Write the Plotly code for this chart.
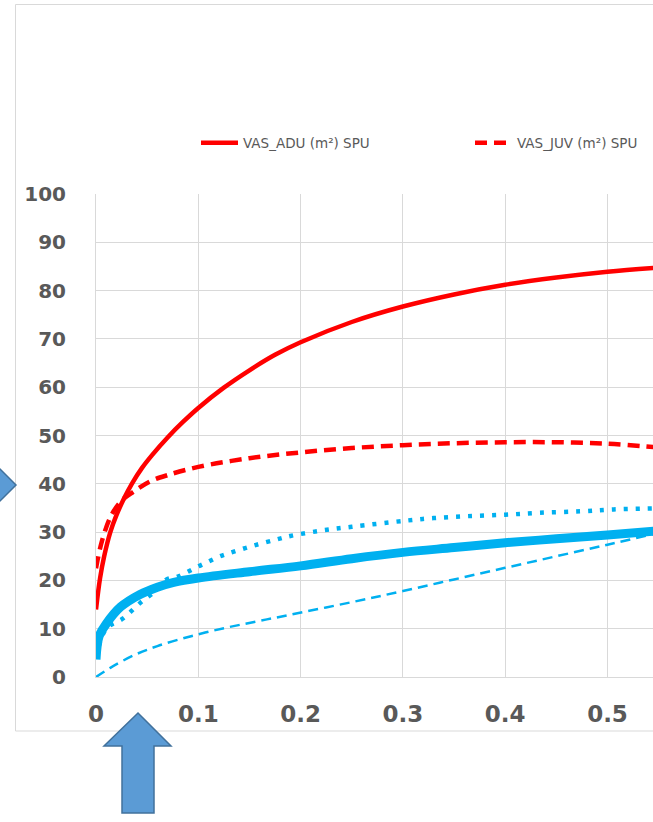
import plotly.graph_objects as go

# ---- data ----
adu_x = [0, 0.004, 0.008, 0.014, 0.02, 0.027, 0.035, 0.045, 0.055, 0.07, 0.085, 0.1, 0.125, 0.15, 0.175, 0.2, 0.25, 0.3, 0.35, 0.4, 0.45, 0.5, 0.545]
adu_y = [14, 20.5, 25, 30, 33.5, 36.8, 40, 43.3, 46, 49.6, 52.8, 55.7, 59.9, 63.5, 66.7, 69.3, 73.5, 76.7, 79.2, 81.2, 82.7, 83.9, 84.7]

juv_x = [0, 0.006, 0.015, 0.025, 0.037, 0.053, 0.07, 0.1, 0.15, 0.2, 0.25, 0.3, 0.35, 0.4, 0.45, 0.5, 0.545]
juv_y = [22.5, 28.3, 33.5, 36.5, 38.4, 40.5, 41.8, 43.5, 45.3, 46.5, 47.4, 48.0, 48.4, 48.6, 48.6, 48.3, 47.6]

blue_x = [0, 0.003, 0.01, 0.024, 0.043, 0.06, 0.076, 0.1, 0.15, 0.2, 0.25, 0.3, 0.35, 0.4, 0.45, 0.5, 0.545]
blue_y = [3.6, 8.4, 11.0, 14.5, 17.1, 18.6, 19.6, 20.5, 21.8, 23.0, 24.5, 25.8, 26.8, 27.8, 28.6, 29.4, 30.2]

dot_x = [0, 0.01, 0.027, 0.043, 0.06, 0.069, 0.079, 0.089, 0.099, 0.109, 0.12, 0.131, 0.154, 0.177, 0.19, 0.22, 0.25, 0.304, 0.33, 0.363, 0.4, 0.434, 0.474, 0.506, 0.545]
dot_y = [4, 10, 12.2, 15.3, 18.1, 20.2, 20.7, 21.7, 22.8, 23.8, 24.9, 25.7, 27.2, 28.5, 29.2, 30.3, 31.1, 32.4, 32.9, 33.3, 33.6, 34.0, 34.3, 34.7, 34.9]

dash_x = [0, 0.014, 0.037, 0.06, 0.092, 0.125, 0.157, 0.19, 0.25, 0.3, 0.35, 0.4, 0.45, 0.5, 0.545]
dash_y = [0, 1.9, 4.5, 6.4, 8.4, 10.1, 11.5, 12.9, 15.5, 17.8, 20.2, 22.6, 25.0, 27.4, 29.6]

x_ticks = [0, 0.1, 0.2, 0.3, 0.4, 0.5]
x_labels = ["0", "0.1", "0.2", "0.3", "0.4", "0.5"]
y_ticks = [0, 10, 20, 30, 40, 50, 60, 70, 80, 90, 100]

RED = "#FF0000"
BLUE = "#00B0F0"
GRID = "#D9D9D9"
TXT = "#595959"

fig = go.Figure()
fig.add_trace(go.Scatter(x=blue_x, y=blue_y, mode="lines", line=dict(color=BLUE, width=9, shape="spline"),
                         showlegend=False, name="blue"))
fig.add_trace(go.Scatter(x=dot_x, y=dot_y, mode="lines", line=dict(color=BLUE, width=4.5, dash="4px,8px", shape="spline"),
                         showlegend=False, name="dot"))
fig.add_trace(go.Scatter(x=dash_x, y=dash_y, mode="lines", line=dict(color=BLUE, width=2.5, dash="10px,6px", shape="spline"),
                         showlegend=False, name="dash"))
fig.add_trace(go.Scatter(x=adu_x, y=adu_y, mode="lines", line=dict(color=RED, width=4.5, shape="spline"),
                         name="VAS_ADU (m²) SPU", legend="legend"))
fig.add_trace(go.Scatter(x=juv_x, y=juv_y, mode="lines", line=dict(color=RED, width=4.5, dash="12px,7px", shape="spline"),
                         name="VAS_JUV (m²) SPU", legend="legend2"))

W, H = 653, 822
L, T, B = 96, 194, 677


def px(v):
    return (v - L) / (W - L)


def py(v):
    return (B - v) / (B - T)


def path(pts):
    return "M " + " L ".join(f"{px(a):.5f},{py(b):.5f}" for a, b in pts) + " Z"


shapes = [
    dict(type="rect", xref="paper", yref="paper", x0=px(15.5), x1=px(720), y0=py(731), y1=py(4.5),
         line=dict(color=GRID, width=1), fillcolor="rgba(0,0,0,0)", layer="below"),
    dict(type="path", xref="paper", yref="paper",
         path=path([(16, 485), (-18, 451), (-18, 519)]),
         fillcolor="#5B9BD5", line=dict(color="#41719C", width=1.5)),
    dict(type="path", xref="paper", yref="paper",
         path=path([(138, 713), (171, 746), (154, 746), (154, 813), (122, 813), (122, 746), (104, 746)]),
         fillcolor="#5B9BD5", line=dict(color="#41719C", width=1.5)),
]

leg_font = dict(family="DejaVu Sans", size=13.5, color=TXT)
leg_common = dict(orientation="h", yanchor="middle", xanchor="left", font=leg_font,
                  itemwidth=37, bgcolor="rgba(0,0,0,0)", borderwidth=0)

fig.update_layout(
    width=W, height=H,
    margin=dict(l=L, r=0, t=T, b=H - B, pad=0),
    paper_bgcolor="white", plot_bgcolor="white",
    shapes=shapes,
    legend=dict(x=px(196), y=py(143), **leg_common),
    legend2=dict(x=px(470), y=py(143), **leg_common),
    xaxis=dict(range=[0, (W - L) / 1023], tickvals=x_ticks, ticktext=x_labels,
               showgrid=True, gridcolor=GRID, gridwidth=1, zeroline=False,
               showline=True, linecolor=GRID, linewidth=1,
               tickfont=dict(family="DejaVu Sans", size=23, color=TXT, weight="bold"),
               ticklabelstandoff=16),
    yaxis=dict(range=[0, 100], tickvals=y_ticks,
               showgrid=True, gridcolor=GRID, gridwidth=1, zeroline=False,
               showline=True, linecolor=GRID, linewidth=1,
               tickfont=dict(family="DejaVu Sans", size=20, color=TXT, weight="bold"),
               ticklabelstandoff=25),
)

fig.write_html("out.html", config={"displayModeBar": False},
               post_script="document.body.style.margin='0';document.body.style.overflow='hidden';")
